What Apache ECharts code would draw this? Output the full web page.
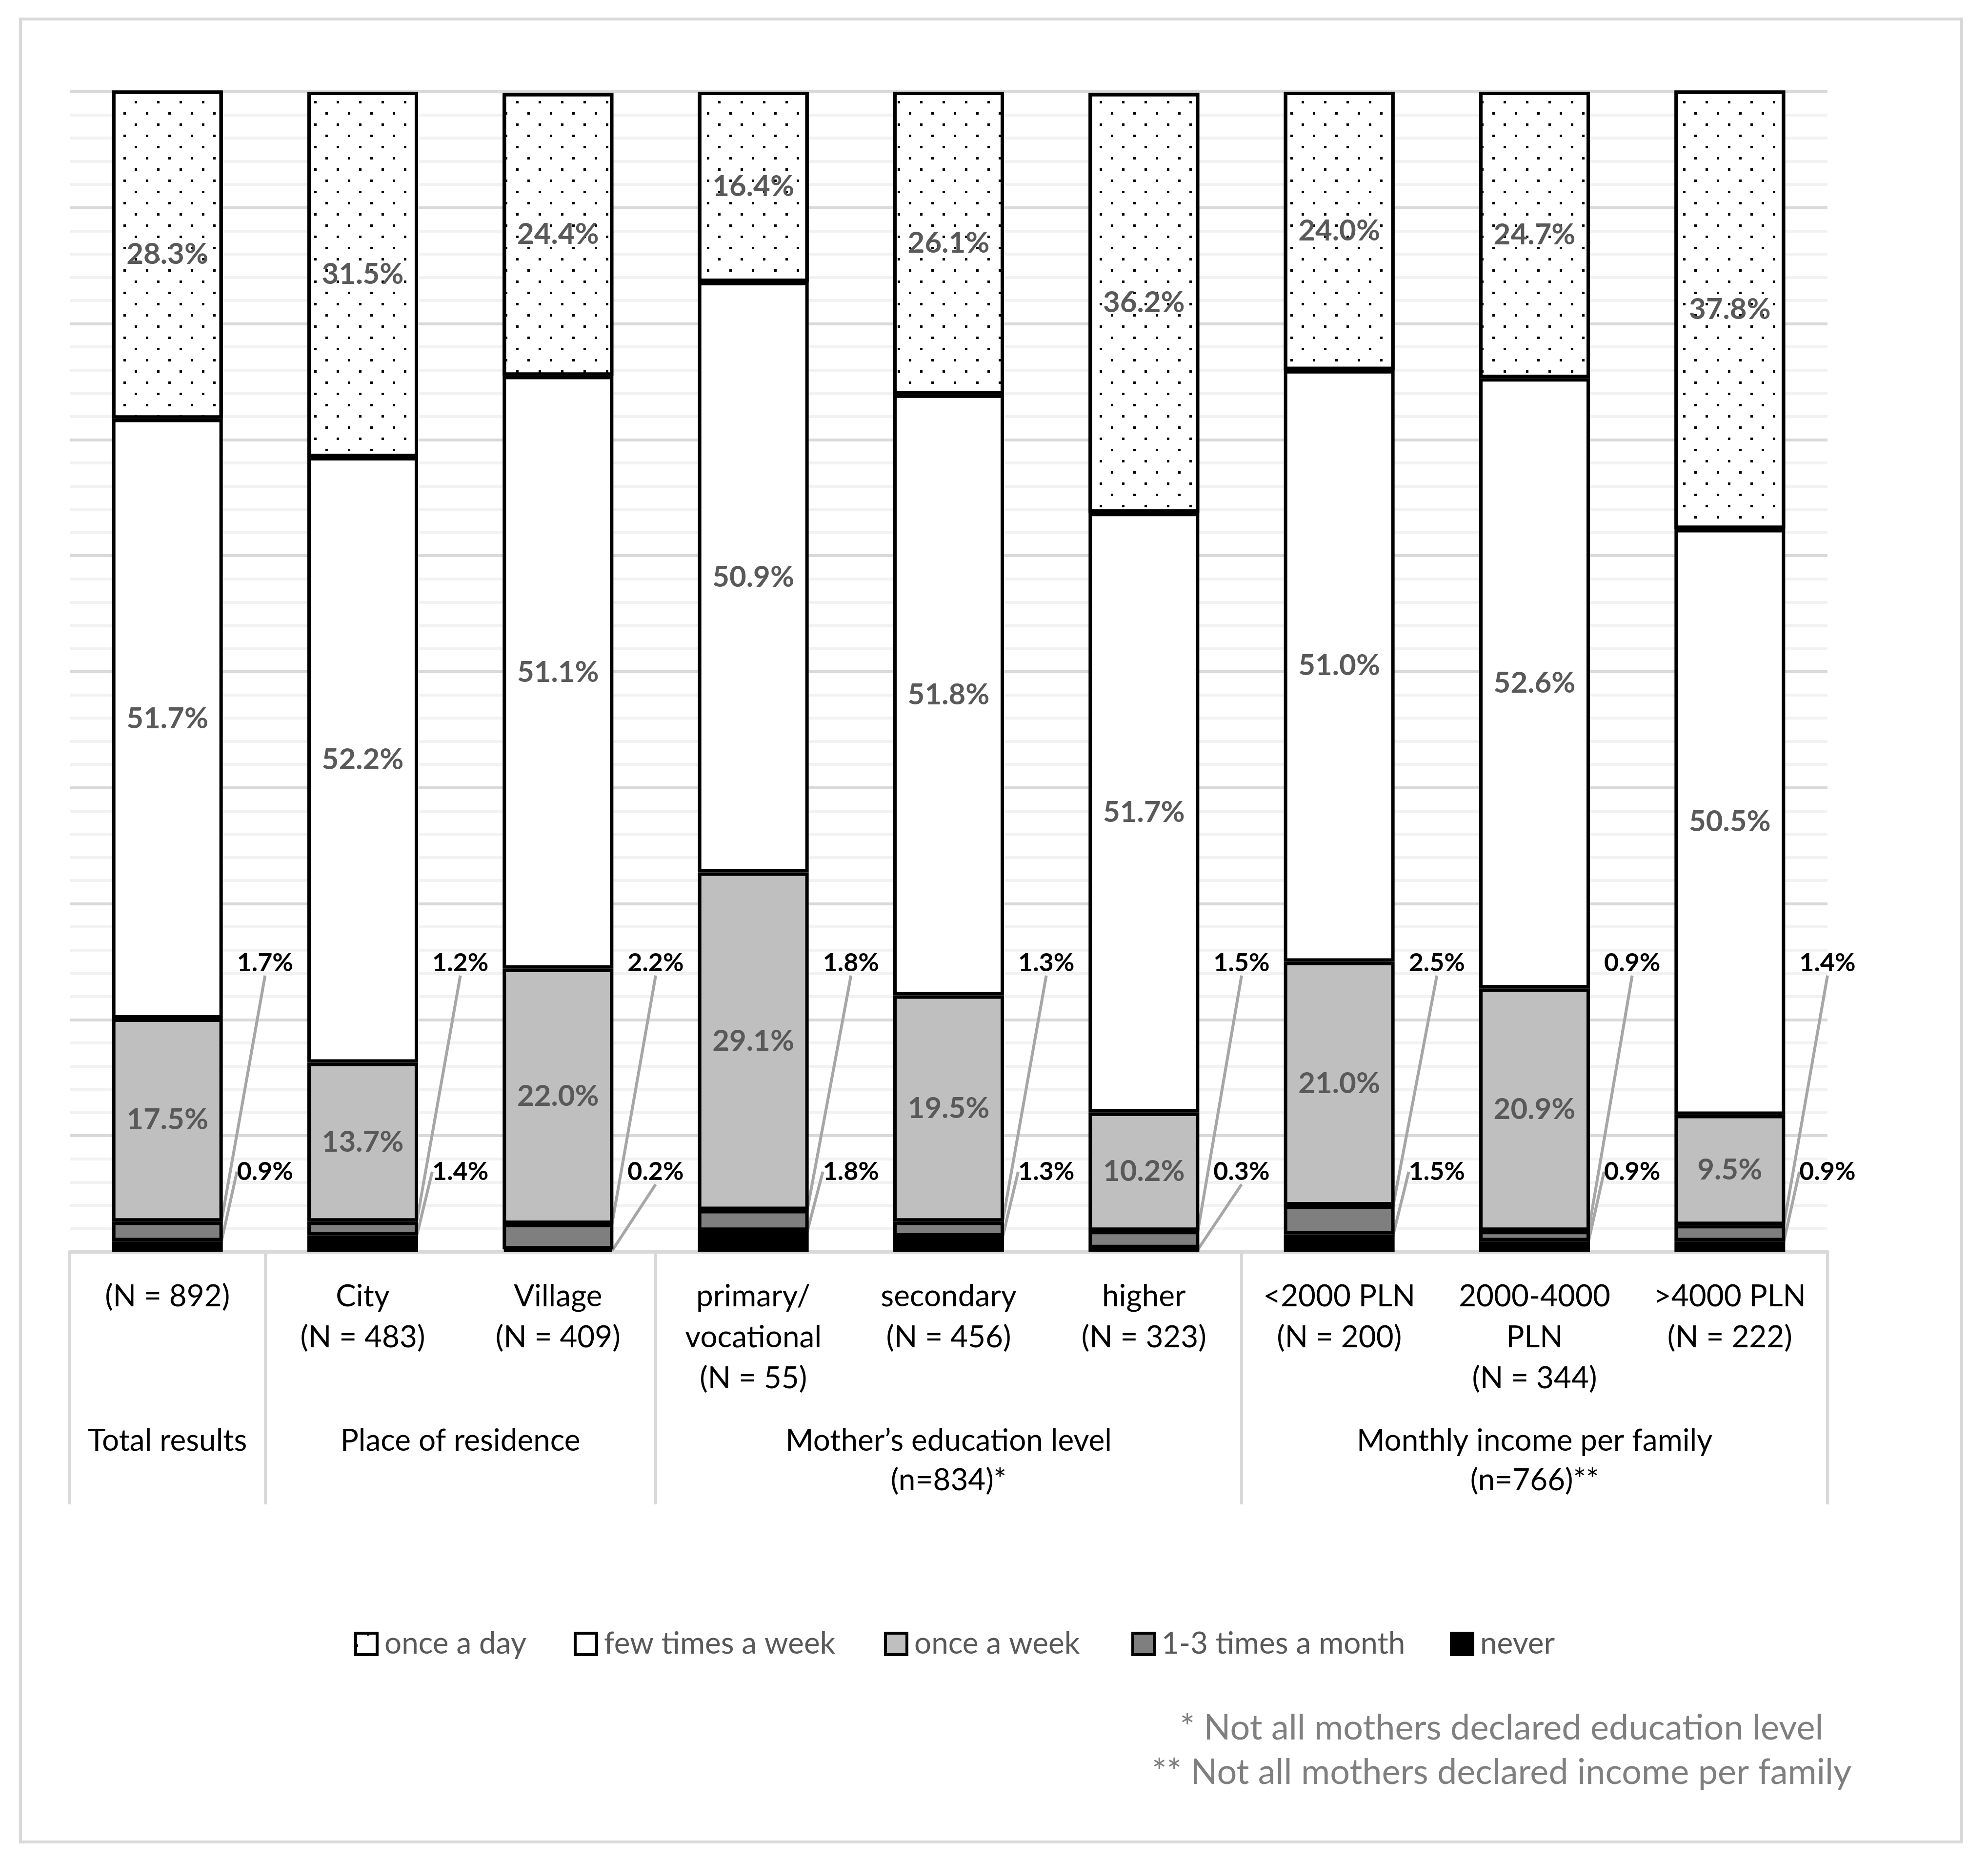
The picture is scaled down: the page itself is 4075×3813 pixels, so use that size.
<!DOCTYPE html>
<html>
<head>
<meta charset="utf-8">
<script src="https://cdn.jsdelivr.net/npm/echarts@6/dist/echarts.min.js"></script>
<style>
html,body{margin:0;padding:0;background:#ffffff;}
#chart{width:4075px;height:3813px;}
</style>
</head>
<body>
<div id="chart"></div>
<script>
// ---------------- DATA ----------------
const categories = [
  '(N = 892)',
  'City\n(N = 483)',
  'Village\n(N = 409)',
  'primary/\nvocational\n(N = 55)',
  'secondary\n(N = 456)',
  'higher\n(N = 323)',
  '<2000 PLN\n(N = 200)',
  '2000-4000\nPLN\n(N = 344)',
  '>4000 PLN\n(N = 222)'
];
const seriesNames = ['once a day', 'few times a week', 'once a week', '1-3 times a month', 'never'];
const onceADay       = [28.3, 31.5, 24.4, 16.4, 26.1, 36.2, 24.0, 24.7, 37.8];
const fewTimesAWeek  = [51.7, 52.2, 51.1, 50.9, 51.8, 51.7, 51.0, 52.6, 50.5];
const onceAWeek      = [17.5, 13.7, 22.0, 29.1, 19.5, 10.2, 21.0, 20.9, 9.5];
const oneToThreeMonth= [1.7, 1.2, 2.2, 1.8, 1.3, 1.5, 2.5, 0.9, 1.4];
const never          = [0.9, 1.4, 0.2, 1.8, 1.3, 0.3, 1.5, 0.9, 0.9];
const groupLabels = ['Total results', 'Place of residence', 'Mother\u2019s education level\n(n=834)*', 'Monthly income per family\n(n=766)**'];
const groupSizes = [1, 2, 3, 3];
const footnotes = ['* Not all mothers declared education level', '** Not all mothers declared income per family'];

// ---------------- LAYOUT ----------------
const W = 4075, H = 3813;
const G = {left: 143, right: 329, top: 188, bottom: 1247};
const gridW = W - G.left - G.right;
const gridH = H - G.top - G.bottom;
const band = gridW / categories.length;
const yPix = v => G.top + gridH * (1 - v / 100);
const FONT = 'Lato, "Liberation Sans", sans-serif';

const groupCenters = [];
const tickIdx = [0];
(function () {
  let acc = 0;
  groupSizes.forEach(s => {
    groupCenters.push(acc + s / 2);
    acc += s;
    if (acc < categories.length) tickIdx.push(acc);
  });
})();

const fmt = p => p.value.toFixed(1) + '%';
const innerLabel = {
  show: true, position: 'inside', color: '#595959', fontWeight: 'bold',
  fontSize: 60, fontFamily: FONT, formatter: fmt, textBorderWidth: 0
};
function outerLabel(yVal) {
  return {
    label: {
      show: true, position: 'inside', color: '#000000', fontWeight: 'bold',
      fontSize: 52, fontFamily: FONT, formatter: fmt, padding: [16, 0, 16, 0], textBorderWidth: 0
    },
    labelLine: {show: true, length2: 0, lineStyle: {color: '#a6a6a6', width: 6}},
    labelLayout: function (p) {
      return {
        x: p.rect.x + p.rect.width / 2 + band / 2,
        y: yPix(yVal),
        align: 'center',
        verticalAlign: 'middle'
      };
    }
  };
}
const border = {borderColor: '#000000', borderWidth: 7};

const seriesDefs = [
  Object.assign({name: 'never', data: never, itemStyle: Object.assign({color: '#000000'}, border)}, outerLabel(6.9)),
  Object.assign({name: '1-3 times a month', data: oneToThreeMonth, itemStyle: Object.assign({color: '#7f7f7f'}, border)}, outerLabel(24.9)),
  {name: 'once a week', data: onceAWeek, itemStyle: Object.assign({color: '#bfbfbf'}, border), label: innerLabel},
  {name: 'few times a week', data: fewTimesAWeek, itemStyle: Object.assign({color: '#ffffff'}, border), label: innerLabel},
  {name: 'once a day', data: onceADay, itemStyle: Object.assign({
      color: '#ffffff',
      decal: {
        symbol: 'rect', symbolSize: 1, color: '#000000', backgroundColor: null,
        dashArrayX: [[5, 41], [0, 23, 5, 18]], dashArrayY: [5, 18], rotation: 0
      }
    }, border), label: innerLabel}
];
const series = seriesDefs.map(s => Object.assign({
  type: 'bar', stack: 'total', barWidth: 227, xAxisIndex: 0, yAxisIndex: 0
}, s));

const legendTextW = [388, 574, 445, 591, 200];

const option = {
  animation: false,
  backgroundColor: '#ffffff',
  grid: {left: G.left, right: G.right, top: G.top, bottom: G.bottom, containLabel: false},
  xAxis: [
    {
      type: 'category', data: categories, position: 'bottom',
      axisLine: {show: true, lineStyle: {color: '#d9d9d9', width: 7}},
      axisTick: {show: true, length: 518, interval: (i) => tickIdx.indexOf(i) >= 0, lineStyle: {color: '#d9d9d9', width: 6}},
      axisLabel: {interval: 0, margin: 50, fontFamily: FONT, fontSize: 62, lineHeight: 84, color: '#000000'},
      splitLine: {show: false}
    },
    {
      type: 'value', position: 'bottom', min: 0, max: categories.length, interval: 0.5,
      axisLine: {show: false}, axisTick: {show: false}, splitLine: {show: false},
      axisLabel: {
        margin: 347, fontFamily: FONT, fontSize: 62, lineHeight: 81, color: '#000000',
        formatter: function (v) {
          for (let i = 0; i < groupCenters.length; i++) {
            if (Math.abs(groupCenters[i] - v) < 1e-6) return groupLabels[i];
          }
          return '';
        }
      }
    }
  ],
  yAxis: {
    type: 'value', min: 0, max: 100, interval: 10,
    axisLabel: {show: false}, axisLine: {show: false}, axisTick: {show: false},
    splitLine: {show: true, lineStyle: {color: '#d9d9d9', width: 6}},
    minorTick: {show: false, splitNumber: 5},
    minorSplitLine: {show: true, lineStyle: {color: '#f2f2f2', width: 6}}
  },
  legend: {
    left: 721, top: 3334, orient: 'horizontal', icon: 'rect',
    itemWidth: 44, itemHeight: 44, itemGap: 0, selectedMode: false,
    itemStyle: {borderWidth: 6, borderColor: '#000000'},
    textStyle: {fontFamily: FONT, fontSize: 62, color: '#595959', padding: [0, 0, 0, 10], lineHeight: 44},
    data: seriesNames.map((n, i) => ({name: n, textStyle: {width: legendTextW[i]}}))
  },
  graphic: [
    {type: 'rect', silent: true, z: 0, shape: {x: 42, y: 39, width: 3979, height: 3737},
     style: {fill: 'none', stroke: '#d9d9d9', lineWidth: 6}},
    {type: 'text', silent: true, x: 3078, y: 3543,
     style: {text: footnotes[0], fontFamily: FONT, fontSize: 72, fill: '#7f7f7f', align: 'center', verticalAlign: 'middle'}},
    {type: 'text', silent: true, x: 3078, y: 3634,
     style: {text: footnotes[1], fontFamily: FONT, fontSize: 72, fill: '#7f7f7f', align: 'center', verticalAlign: 'middle'}}
  ],
  series: series
};

const chart = echarts.init(document.getElementById('chart'), null, {renderer: 'canvas', width: W, height: H});
chart.setOption(option);
</script>
</body>
</html>
